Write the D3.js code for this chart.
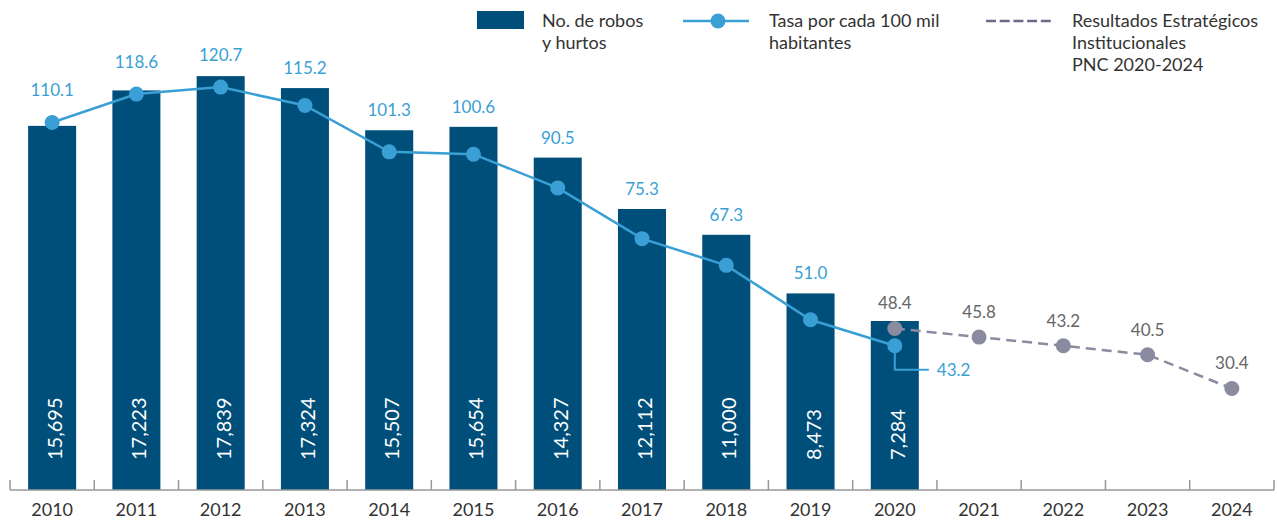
<!DOCTYPE html>
<html>
<head>
<meta charset="utf-8">
<script src="https://cdn.jsdelivr.net/npm/d3@7"></script>
<style>
  body { margin: 0; background: #fff; }
  svg { display: block; font-family: Lato, "Open Sans", sans-serif; }
</style>
</head>
<body>
<div class="chart"></div>
<script>
// data
const years = ["2010","2011","2012","2013","2014","2015","2016","2017","2018","2019","2020","2021","2022","2023","2024"];
const robosYears = ["2010","2011","2012","2013","2014","2015","2016","2017","2018","2019","2020"];
const robos = [15695, 17223, 17839, 17324, 15507, 15654, 14327, 12112, 11000, 8473, 7284];
const tasa = [110.1, 118.6, 120.7, 115.2, 101.3, 100.6, 90.5, 75.3, 67.3, 51.0, 43.2];
const metaYears = ["2020","2021","2022","2023","2024"];
const meta = [48.4, 45.8, 43.2, 40.5, 30.4];

const width = 1277, height = 520;
const baseY = 490, plotH = 464;
const barColor = "#004f7a", lineColor = "#3a9fd4", metaColor = "#8b8ba0", textColor = "#333";

const fmtInt = d3.format(",");
const fmtDec = d3.format(".1f");

const svg = d3.select(".chart").append("svg")
    .attr("width", width)
    .attr("height", height);

const x = d3.scaleBand()
    .domain(years)
    .range([10, 1274])
    .paddingInner(0.43)
    .paddingOuter(0.215);

const yBar = d3.scaleLinear().domain([0, 20000]).range([baseY, baseY - plotH]);
const yRate = d3.scaleLinear().domain([0, 139]).range([baseY, baseY - plotH]);

const cx = d => x(d) + x.bandwidth() / 2;

const bars = robosYears.map((y, i) => ({ year: y, value: robos[i], rate: tasa[i] }));
const proj = metaYears.map((y, i) => ({ year: y, value: meta[i] }));

// bars
svg.append("g").selectAll("rect")
    .data(bars)
    .join("rect")
    .attr("x", d => x(d.year))
    .attr("y", d => yBar(d.value))
    .attr("width", x.bandwidth())
    .attr("height", d => baseY - yBar(d.value))
    .attr("fill", barColor);

// bar values, rotated
svg.append("g").selectAll("text")
    .data(bars)
    .join("text")
    .attr("transform", d => `translate(${cx(d.year) + 10}, 460) rotate(-90)`)
    .attr("fill", "#fff")
    .style("font-size", "20px")
    .text(d => fmtInt(d.value));

// x axis
const step = x.step();
const tickXs = years.map(y => x(y) - step * x.paddingInner() / 2).concat([1274]);
const axis = svg.append("g");
axis.append("line")
    .attr("x1", 10).attr("x2", 1274)
    .attr("y1", baseY).attr("y2", baseY)
    .attr("stroke", "#999").attr("stroke-width", 1.5);
axis.selectAll("line.tick")
    .data(tickXs)
    .join("line")
    .attr("class", "tick")
    .attr("x1", d => d).attr("x2", d => d)
    .attr("y1", baseY - 10).attr("y2", baseY)
    .attr("stroke", "#999").attr("stroke-width", 1.5);
axis.selectAll("text")
    .data(years)
    .join("text")
    .attr("x", d => cx(d))
    .attr("y", 516)
    .attr("text-anchor", "middle")
    .attr("fill", textColor)
    .style("font-size", "18px")
    .text(d => d);

// projected line (dashed)
const metaLine = d3.line().x(d => cx(d.year)).y(d => yRate(d.value));
svg.append("path")
    .datum(proj)
    .attr("d", metaLine)
    .attr("fill", "none")
    .attr("stroke", metaColor)
    .attr("stroke-width", 2.5)
    .attr("stroke-dasharray", "10,6");

svg.append("g").selectAll("circle")
    .data(proj)
    .join("circle")
    .attr("cx", d => cx(d.year))
    .attr("cy", d => yRate(d.value))
    .attr("r", 7.5)
    .attr("fill", metaColor);

svg.append("g").selectAll("text")
    .data(proj)
    .join("text")
    .attr("x", d => cx(d.year))
    .attr("y", d => yRate(d.value) - 25)
    .attr("dy", "0.35em")
    .attr("text-anchor", "middle")
    .attr("fill", "#666")
    .style("font-size", "17px")
    .text(d => fmtDec(d.value));

// rate line
const rateLine = d3.line().x(d => cx(d.year)).y(d => yRate(d.rate));
svg.append("path")
    .datum(bars)
    .attr("d", rateLine)
    .attr("fill", "none")
    .attr("stroke", lineColor)
    .attr("stroke-width", 2.5);

svg.append("g").selectAll("circle")
    .data(bars)
    .join("circle")
    .attr("cx", d => cx(d.year))
    .attr("cy", d => yRate(d.rate))
    .attr("r", 7.5)
    .attr("fill", lineColor);

// rate labels (last one gets a leader)
const last = bars[bars.length - 1];
svg.append("g").selectAll("text")
    .data(bars.slice(0, -1))
    .join("text")
    .attr("x", d => cx(d.year))
    .attr("y", d => Math.min(yBar(d.value), yRate(d.rate) - 12) - 20)
    .attr("dy", "0.35em")
    .attr("text-anchor", "middle")
    .attr("fill", lineColor)
    .style("font-size", "17px")
    .text(d => fmtDec(d.rate));

const lx = cx(last.year), ly = yRate(last.rate);
svg.append("path")
    .attr("d", `M${lx},${ly} V${ly + 24} H${lx + 34}`)
    .attr("fill", "none")
    .attr("stroke", lineColor)
    .attr("stroke-width", 2);
svg.append("text")
    .attr("x", lx + 42)
    .attr("y", ly + 24)
    .attr("dy", "0.35em")
    .attr("fill", lineColor)
    .style("font-size", "17px")
    .text(fmtDec(last.rate));

// legend
const legend = svg.append("g").attr("fill", textColor).style("font-size", "18px");
legend.append("rect")
    .attr("x", 477).attr("y", 11).attr("width", 47).attr("height", 18)
    .attr("fill", barColor);
legend.append("text").attr("x", 542).attr("y", 21).attr("dy", "0.35em").text("No. de robos");
legend.append("text").attr("x", 542).attr("y", 42.7).attr("dy", "0.35em").text("y hurtos");

legend.append("line")
    .attr("x1", 683).attr("x2", 749).attr("y1", 21).attr("y2", 21)
    .attr("stroke", lineColor).attr("stroke-width", 2.5);
legend.append("circle").attr("cx", 718).attr("cy", 21).attr("r", 7.5).attr("fill", lineColor);
legend.append("text").attr("x", 769).attr("y", 21).attr("dy", "0.35em").text("Tasa por cada 100 mil");
legend.append("text").attr("x", 769).attr("y", 42.7).attr("dy", "0.35em").text("habitantes");

legend.append("line")
    .attr("x1", 986).attr("x2", 1051).attr("y1", 21).attr("y2", 21)
    .attr("stroke", "#6b6b88").attr("stroke-width", 2.5)
    .attr("stroke-dasharray", "10,3.7");
legend.append("text").attr("x", 1072).attr("y", 21).attr("dy", "0.35em").text("Resultados Estratégicos");
legend.append("text").attr("x", 1072).attr("y", 43).attr("dy", "0.35em").text("Institucionales");
legend.append("text").attr("x", 1072).attr("y", 64.5).attr("dy", "0.35em").text("PNC 2020-2024");
</script>
</body>
</html>
